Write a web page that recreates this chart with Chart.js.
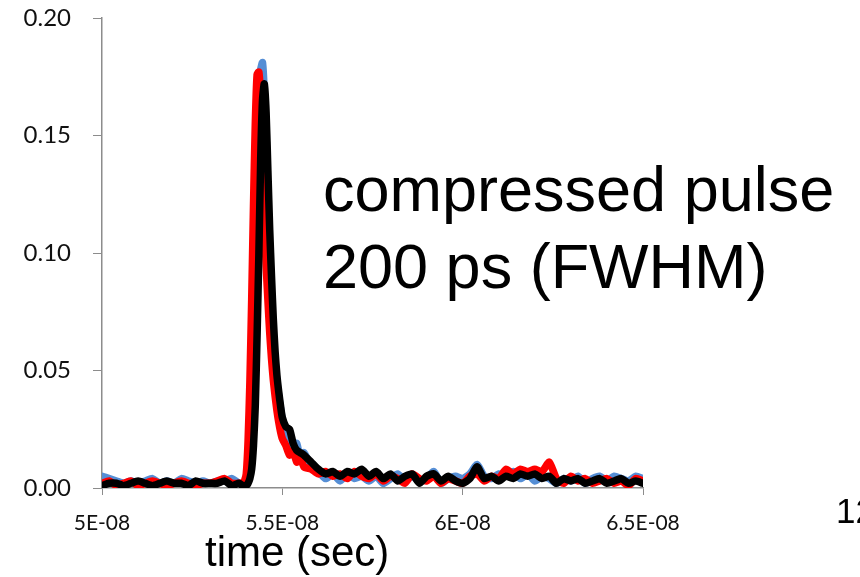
<!DOCTYPE html>
<html>
<head>
<meta charset="utf-8">
<script src="https://cdn.jsdelivr.net/npm/chart.js@4"></script>
<style>
  body { margin: 0; background: #fff; }
</style>
</head>
<body>
<canvas id="pulseChart" width="860" height="577"></canvas>
<script>
  // time axis in ns (labels are shown in seconds, Excel style)
  const timeNs = [
    50.0, 50.2, 50.4, 50.6, 50.8, 51.0, 51.2, 51.4, 51.6, 51.8,
    52.0, 52.2, 52.4, 52.6, 52.8, 53.0, 53.2, 53.4, 53.6, 53.8,
    53.9, 53.95, 54.0, 54.05, 54.1, 54.15, 54.2, 54.25, 54.3, 54.35, 54.4, 54.45,
    54.5, 54.55, 54.6, 54.65, 54.7, 54.75, 54.8, 54.85, 54.9, 54.95, 55.0,
    55.1, 55.2, 55.3, 55.4, 55.5, 55.6, 55.8,
    56.0, 56.2, 56.4, 56.6, 56.8, 57.0, 57.2, 57.4, 57.6, 57.8,
    58.0, 58.2, 58.4, 58.6, 58.8, 59.0, 59.2, 59.4, 59.6, 59.8,
    60.0, 60.2, 60.4, 60.6, 60.8, 61.0, 61.2, 61.4, 61.6, 61.8,
    62.0, 62.2, 62.4, 62.6, 62.8, 63.0, 63.2, 63.4, 63.6, 63.8,
    64.0, 64.2, 64.4, 64.6, 64.8, 65.0
  ];

  const blueTrace = [
    0.005, 0.004, 0.003, 0.002, 0.003, 0.002, 0.003, 0.004, 0.002, 0.003,
    0.002, 0.004, 0.003, 0.002, 0.003, 0.002, 0.003, 0.003, 0.004, 0.002,
    0.002, 0.002, 0.003, 0.006, 0.012, 0.025, 0.050, 0.085, 0.125, 0.160, 0.178, 0.181,
    0.168, 0.145, 0.120, 0.098, 0.080, 0.065, 0.053, 0.045, 0.039, 0.034, 0.029,
    0.024, 0.021, 0.017, 0.019, 0.012, 0.015, 0.009,
    0.007, 0.004, 0.006, 0.003, 0.006, 0.004, 0.005, 0.003, 0.005, 0.002,
    0.004, 0.006, 0.003, 0.005, 0.003, 0.004, 0.007, 0.002, 0.004, 0.005,
    0.004, 0.006, 0.010, 0.005, 0.004, 0.006, 0.005, 0.007, 0.004, 0.006,
    0.003, 0.005, 0.004, 0.002, 0.004, 0.003, 0.005, 0.002, 0.004, 0.005,
    0.003, 0.005, 0.004, 0.003, 0.005, 0.004
  ];

  const redTrace = [
    0.002, 0.003, 0.001, 0.002, 0.003, 0.001, 0.002, 0.003, 0.002, 0.001,
    0.002, 0.003, 0.002, 0.001, 0.002, 0.002, 0.003, 0.004, 0.002, 0.002,
    0.002, 0.003, 0.006, 0.020, 0.045, 0.080, 0.120, 0.155, 0.176, 0.177, 0.165, 0.140,
    0.115, 0.095, 0.080, 0.066, 0.055, 0.046, 0.039, 0.033, 0.028, 0.024, 0.021,
    0.018, 0.014, 0.016, 0.011, 0.013, 0.009, 0.008,
    0.006, 0.007, 0.005, 0.006, 0.004, 0.007, 0.005, 0.004, 0.006, 0.003,
    0.005, 0.004, 0.002, 0.006, 0.004, 0.003, 0.005, 0.002, 0.004, 0.003,
    0.002, 0.005, 0.006, 0.003, 0.005, 0.004, 0.008, 0.006, 0.008, 0.007,
    0.008, 0.007, 0.011, 0.004, 0.002, 0.005, 0.003, 0.004, 0.002, 0.003,
    0.004, 0.002, 0.003, 0.001, 0.004, 0.003
  ];

  const blackTrace = [
    0.001, 0.002, 0.002, 0.001, 0.002, 0.003, 0.002, 0.001, 0.002, 0.003,
    0.002, 0.002, 0.001, 0.003, 0.002, 0.002, 0.002, 0.003, 0.001, 0.002,
    0.001, 0.001, 0.001, 0.002, 0.004, 0.008, 0.018, 0.035, 0.065, 0.100, 0.140, 0.165,
    0.172, 0.160, 0.135, 0.110, 0.090, 0.072, 0.058, 0.048, 0.041, 0.035, 0.030,
    0.026, 0.025, 0.019, 0.016, 0.015, 0.014, 0.011,
    0.008, 0.006, 0.007, 0.005, 0.007, 0.006, 0.008, 0.005, 0.007, 0.004,
    0.006, 0.003, 0.005, 0.006, 0.002, 0.005, 0.006, 0.003, 0.005, 0.003,
    0.002, 0.004, 0.009, 0.004, 0.005, 0.003, 0.005, 0.004, 0.006, 0.005,
    0.006, 0.004, 0.005, 0.002, 0.004, 0.003, 0.004, 0.002, 0.003, 0.004,
    0.002, 0.003, 0.004, 0.002, 0.003, 0.002
  ];

  const xTickValues = [50, 55, 60, 65];
  const yTickValues = [0, 0.05, 0.10, 0.15, 0.20];

  const toPoints = (ys) => timeNs.map((t, i) => ({ x: t, y: ys[i] }));

  // ns -> "5E-08", "5.5E-08" like Excel general format
  function secLabel(ns) {
    const m = ns / 10;
    return String(Math.round(m * 10) / 10) + 'E-08';
  }

  // extra texts on the slide
  const slideText = {
    id: 'slideText',
    afterDraw(chart) {
      const ctx = chart.ctx;
      ctx.save();
      ctx.fillStyle = '#000';
      ctx.textAlign = 'left';
      ctx.textBaseline = 'alphabetic';
      ctx.font = '63px "Liberation Sans", Arial, sans-serif';
      ctx.fillText('compressed pulse', 323, 211);
      ctx.fillText('200 ps (FWHM)', 323, 288);
      ctx.font = '42px "Liberation Sans", Arial, sans-serif';
      ctx.fillText('time (sec)', 205, 566);
      ctx.font = '35px "Liberation Sans", Arial, sans-serif';
      ctx.fillText('12', 836, 523);
      ctx.restore();
    }
  };

  const axisGrey = '#8c8c8c';

  new Chart(document.getElementById('pulseChart'), {
    type: 'line',
    data: {
      datasets: [
        // order: higher number is drawn first, so black ends on top
        { data: toPoints(blueTrace), borderColor: '#558ed5', borderWidth: 7.5, order: 3 },
        { data: toPoints(redTrace), borderColor: '#ff0000', borderWidth: 7.5, order: 2 },
        { data: toPoints(blackTrace), borderColor: '#000000', borderWidth: 7.5, order: 1 }
      ]
    },
    options: {
      responsive: false,
      animation: false,
      devicePixelRatio: 1,
      layout: { padding: { top: 0, right: 217, bottom: 0, left: 0 } },
      elements: {
        point: { radius: 0 },
        line: { tension: 0.2, borderJoinStyle: 'round', borderCapStyle: 'round' }
      },
      scales: {
        x: {
          type: 'linear',
          min: 50,
          max: 65,
          afterBuildTicks: (scale) => { scale.ticks = xTickValues.map(v => ({ value: v })); },
          afterFit: (scale) => { scale.height = 89; },
          grid: { drawOnChartArea: false, drawTicks: true, tickLength: 7, color: axisGrey },
          border: { color: axisGrey, width: 1.5 },
          ticks: {
            padding: 16,
            color: '#111',
            font: { family: 'Lato', size: 21 },
            callback: (v) => secLabel(v)
          }
        },
        y: {
          min: 0,
          max: 0.2,
          afterBuildTicks: (scale) => { scale.ticks = yTickValues.map(v => ({ value: v })); },
          afterFit: (scale) => {
            scale.width = 102;
            scale.paddingTop = 18;
            scale.paddingBottom = 0;
          },
          grid: { drawOnChartArea: false, drawTicks: true, tickLength: 9, color: axisGrey },
          border: { color: axisGrey, width: 1.5 },
          ticks: {
            padding: 22,
            color: '#111',
            font: { family: 'Lato', size: 24 },
            callback: (v) => Number(v).toFixed(2)
          }
        }
      },
      plugins: {
        legend: { display: false },
        tooltip: { enabled: false }
      }
    },
    plugins: [slideText]
  });
</script>
</body>
</html>
